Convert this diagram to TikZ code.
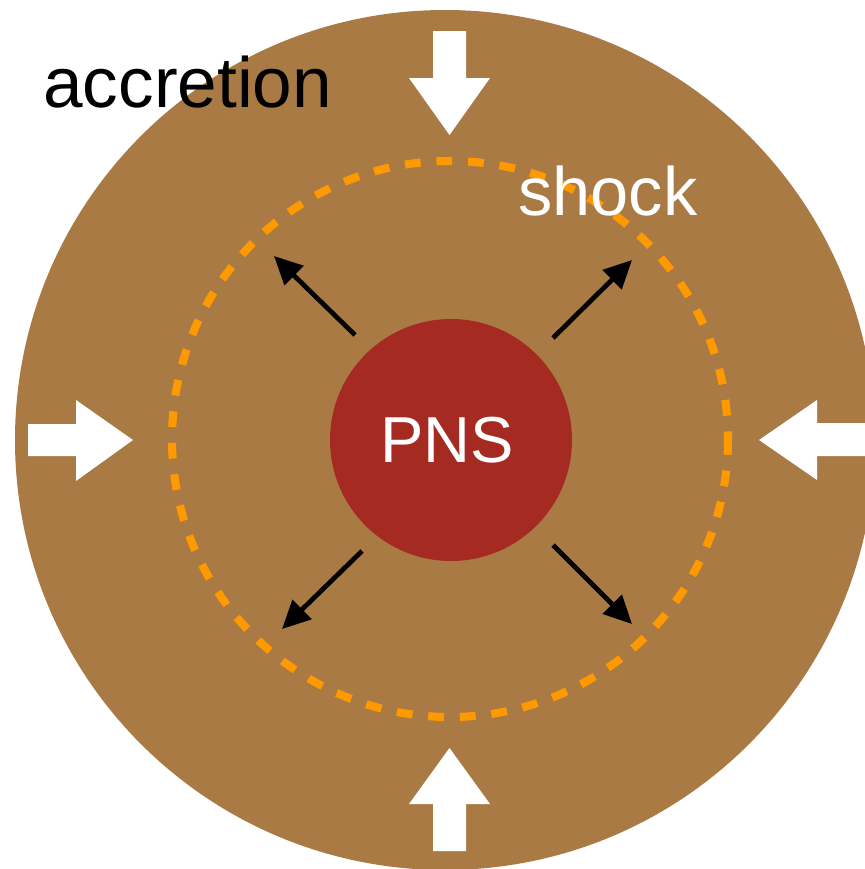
\documentclass[tikz,border=0pt]{standalone}
\usepackage{fontspec}
\setmainfont{Liberation Sans}
\usetikzlibrary{arrows.meta}
\definecolor{mantle}{HTML}{A97A43}
\definecolor{core}{HTML}{A52A22}
\definecolor{shockline}{HTML}{FF9900}
\tikzset{
  inflow/.style={fill=white, draw=none},
  outflow/.style={draw=black, line width=2.7pt, -{Triangle[length=16pt,width=15pt]}},
  label/.style={inner sep=0pt, anchor=base west},
}
\begin{document}
\begin{tikzpicture}[x=0.02cm, y=-0.02cm]
\useasboundingbox (0,0) rectangle (865,869);
\clip (0,0) rectangle (865,869);

% accreting envelope
\fill[mantle] (445,440) circle[radius=430];

% stalled shock front
\draw[shockline, line width=4.6pt, dash pattern=on 9pt off 9pt] (450,439) circle[radius=278];

% proto-neutron star
\fill[core] (451,440) circle[radius=121];
\node[text=white, inner sep=0pt, font=\fontsize{37}{37}\selectfont] (pns) at (447,440) {PNS};

% inflowing matter (block arrows)
\fill[inflow] (433,31) -- (466,31) -- (466,78) -- (490,78) -- (449.5,135) -- (409,78) -- (433,78) -- cycle;
\fill[inflow] (433,851) -- (466,851) -- (466,804) -- (490,804) -- (449.5,748) -- (409,804) -- (433,804) -- cycle;
\fill[inflow] (28,424) -- (28,456) -- (76,456) -- (76,481) -- (133,440) -- (76,400) -- (76,424) -- cycle;
\fill[inflow] (865,423) -- (865,456) -- (817,456) -- (817,480) -- (759,440) -- (817,400) -- (817,423) -- cycle;

% outflow directions
\coordinate (ulS) at (355,335);  \coordinate (ulE) at (274,256);
\coordinate (urS) at (553,338);  \coordinate (urE) at (632,260);
\coordinate (llS) at (362,551);  \coordinate (llE) at (282,629);
\coordinate (lrS) at (553,545);  \coordinate (lrE) at (632,624);
\draw[outflow] (ulS) -- (ulE);
\draw[outflow] (urS) -- (urE);
\draw[outflow] (llS) -- (llE);
\draw[outflow] (lrS) -- (lrE);

% labels
\node[label, text=black, font=\fontsize{40.5}{40.5}\selectfont] (acc) at (43,107) {accretion};
\node[label, text=white, font=\fontsize{39}{39}\selectfont] (shk) at (518,215) {shock};
\end{tikzpicture}
\end{document}
